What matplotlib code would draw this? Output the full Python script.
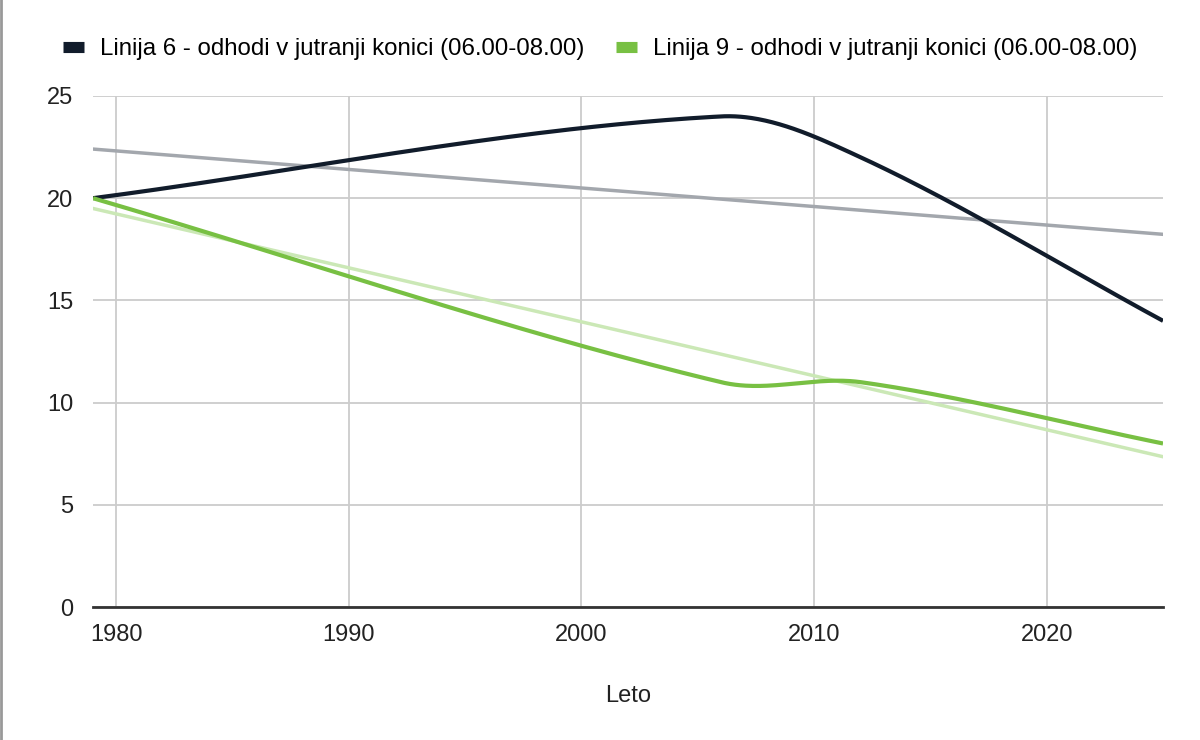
import numpy as np
import matplotlib
matplotlib.use("Agg")
import matplotlib.pyplot as plt
from matplotlib.lines import Line2D

plt.rcParams['font.family'] = ['Liberation Sans', 'DejaVu Sans']

# --- Podatki ---
leta = [1979, 2006, 2012, 2025]
linija6 = [20, 24, 22, 14]
linija9 = [20, 11, 11, 8]
oznake = ['Linija 6 - odhodi v jutranji konici (06.00-08.00)',
          'Linija 9 - odhodi v jutranji konici (06.00-08.00)']
x_ticks = [1980, 1990, 2000, 2010, 2020]
y_ticks = [0, 5, 10, 15, 20, 25]

BARVA6 = '#111c2b'
BARVA9 = '#78c043'
TREND6 = '#a3a7ad'
TREND9 = '#cbe8b6'


def gladka_krivulja(x, y, n=80):
    """Kubicna Hermitova krivulja skozi tocke (naklon iz sosednjih tock)."""
    x = np.asarray(x, float)
    y = np.asarray(y, float)
    m = np.zeros_like(y)
    m[0] = (y[1] - y[0]) / (x[1] - x[0])
    m[-1] = (y[-1] - y[-2]) / (x[-1] - x[-2])
    m[1:-1] = (y[2:] - y[:-2]) / (x[2:] - x[:-2])
    xs, ys = [], []
    for i in range(len(x) - 1):
        h = x[i + 1] - x[i]
        t = np.linspace(0, 1, n)
        h00 = 2 * t**3 - 3 * t**2 + 1
        h10 = t**3 - 2 * t**2 + t
        h01 = -2 * t**3 + 3 * t**2
        h11 = t**3 - t**2
        seg = h00 * y[i] + h10 * h * m[i] + h01 * y[i + 1] + h11 * h * m[i + 1]
        xs.append(x[i] + t * h)
        ys.append(seg)
    return np.concatenate(xs), np.concatenate(ys)


def trend(x, y):
    k, n = np.polyfit(x, y, 1)
    xs = np.array([x[0], x[-1]])
    return xs, k * xs + n


fig = plt.figure(figsize=(12, 7.4), dpi=100)
ax = fig.add_axes([0.0775, 0.1797, 0.8917, 0.6906])

tx, ty = trend(leta, linija6)
ax.plot(tx, ty, color=TREND6, lw=2.5, zorder=2)
tx, ty = trend(leta, linija9)
ax.plot(tx, ty, color=TREND9, lw=2.5, zorder=2)

sx, sy = gladka_krivulja(leta, linija6)
ax.plot(sx, sy, color=BARVA6, lw=3, zorder=3, solid_capstyle='butt')
sx, sy = gladka_krivulja(leta, linija9)
ax.plot(sx, sy, color=BARVA9, lw=3, zorder=3, solid_capstyle='butt')

ax.set_xlim(leta[0], leta[-1])
ax.set_ylim(0, 25)
ax.set_xticks(x_ticks)
ax.set_yticks(y_ticks)
ax.grid(True, color='#cccccc', lw=1.3)
ax.set_axisbelow(True)
for s in ['top', 'right', 'left']:
    ax.spines[s].set_visible(False)
ax.spines['bottom'].set_color('#333333')
ax.spines['bottom'].set_linewidth(2)
ax.spines['bottom'].set_zorder(4)
ax.tick_params(length=0, labelsize=17, colors='#222222', pad=12)
ax.tick_params(axis='y', pad=14)
ax.set_xlabel('Leto', fontsize=17, color='#222222', labelpad=28)

handles = [Line2D([], [], color=BARVA6, lw=8, solid_capstyle='butt'),
           Line2D([], [], color=BARVA9, lw=8, solid_capstyle='butt')]
fig.legend(handles, oznake, loc='center', bbox_to_anchor=(0.5, 1 - 49 / 740),
           ncol=2, frameon=False, fontsize=17.3, handlelength=0.9,
           handletextpad=0.65, columnspacing=1.3)

# siva crta na levem robu
fig.add_artist(Line2D([0.001, 0.001], [0, 1], color='#999999', lw=2,
                      transform=fig.transFigure))

fig.savefig('out.png', dpi=100)
